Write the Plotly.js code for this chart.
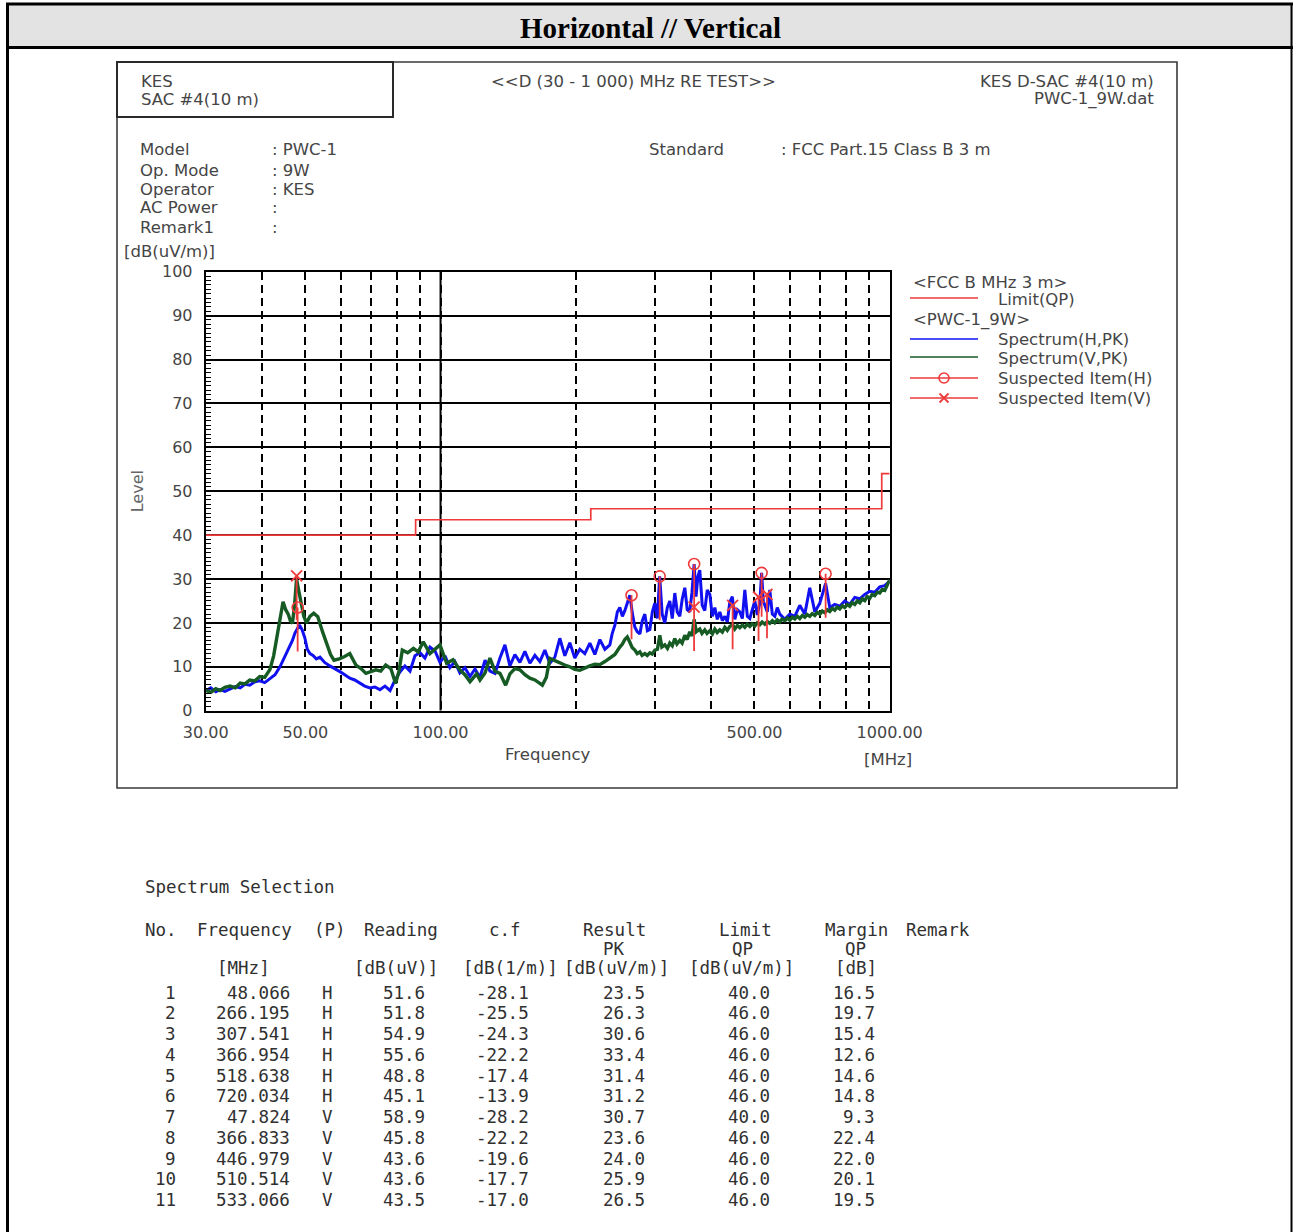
<!DOCTYPE html>
<html>
<head>
<meta charset="utf-8">
<script src="https://cdn.plot.ly/plotly-3.0.1.min.js"></script>
<style>
html,body{margin:0;padding:0;background:#fff;}
#chart{width:1293px;height:1232px;}
</style>
</head>
<body>
<div id="chart"></div>
<script>
// ---------------- DATA ----------------
const pageTitle = "Horizontal // Vertical";

// Spectrum (H, PK)
const hFreq = [30.0,30.8,31.6,32.3,33.1,34.0,34.9,35.8,36.7,37.6,38.6,39.6,40.6,41.7,42.8,43.9,45.0,46.2,46.8,47.4,48.0,48.5,49.2,49.9,50.5,51.2,52.0,52.9,53.9,55.2,56.7,58.2,59.7,61.2,62.8,64.4,66.1,67.8,69.6,71.4,73.3,75.2,77.2,79.2,81.2,83.3,85.5,87.7,90.0,92.3,94.7,97.2,99.7,102.3,104.9,107.6,110.4,113.3,116.3,119.3,122.4,125.6,128.8,132.2,135.6,139.1,142.7,146.4,150.2,154.1,158.1,162.2,166.4,170.7,175.1,179.7,184.3,189.1,194.0,199.0,204.2,209.5,215.0,220.6,226.3,232.2,238.2,241.0,244.4,247.5,250.7,254.0,257.2,260.5,263.9,267.5,270.8,274.2,277.8,281.3,285.0,288.7,292.4,296.2,300.0,303.8,307.5,311.5,315.7,319.8,323.9,328.0,332.3,336.5,340.9,345.3,349.8,354.2,358.8,362.9,366.95,370.5,374.0,377.7,382.5,387.5,392.5,397.7,402.8,408.0,413.2,418.6,424.0,429.5,435.0,440.6,446.3,452.0,458.0,463.8,469.8,475.8,482.0,488.2,494.5,500.9,507.3,513.8,518.6,523.0,527.2,534.0,540.8,547.8,554.9,562.0,569.2,584.0,599.2,614.8,630.7,647.1,663.8,681.1,698.8,720.0,735.5,754.5,774.1,794.2,814.8,836.0,857.7,880.0,902.7,926.1,950.2,974.9,1000.0];
const hLevel = [4.5,5.2,4.3,4.8,4.4,5.0,5.5,5.2,6.0,5.8,6.6,6.8,6.4,7.3,8.2,10.0,12.2,14.6,16.0,17.7,18.8,19.5,18.4,16.5,14.0,13.0,12.6,11.8,12.2,11.0,10.2,9.6,8.9,8.2,7.4,7.0,6.2,5.6,5.2,5.4,4.8,5.6,4.6,7.0,8.8,10.2,9.0,12.5,13.2,12.0,14.5,13.6,11.0,12.5,9.8,11.2,8.6,9.8,7.8,9.5,7.6,11.5,9.0,8.5,12.0,15.0,10.2,12.8,11.0,13.5,10.8,12.6,11.2,13.8,10.8,12.2,16.5,12.5,15.5,12.0,14.0,13.0,15.4,12.8,16.2,14.0,15.0,17.5,19.5,22.5,23.5,21.5,22.8,24.5,26.3,22.0,19.0,18.0,17.5,20.5,22.0,18.2,18.5,22.5,24.5,21.0,30.6,22.0,20.0,23.5,25.0,21.0,26.8,22.5,21.5,25.5,28.0,23.0,22.5,27.0,33.4,26.0,30.5,32.0,24.0,22.8,27.5,26.5,21.5,23.5,20.8,22.5,20.5,21.5,20.2,24.8,26.0,20.8,23.0,22.5,21.0,27.5,21.5,21.0,23.0,25.0,21.8,24.5,31.4,25.0,24.0,22.5,27.5,22.0,21.5,23.5,22.0,20.8,22.0,21.5,24.0,22.0,28.0,22.5,24.5,29.0,23.5,24.2,23.8,25.0,24.2,25.8,25.5,26.5,27.2,27.0,28.2,28.5,29.5];

// Spectrum (V, PK)
const vFreq = [30.0,30.8,31.6,32.3,33.1,34.0,34.9,35.8,36.7,37.6,38.6,39.6,40.6,41.7,42.5,43.3,44.0,44.6,45.2,45.8,46.3,46.8,47.3,47.8,48.3,49.0,49.6,50.3,51.2,52.2,53.3,54.6,55.9,56.9,57.9,59.5,61.0,62.8,64.8,66.5,68.2,70.0,71.8,73.6,75.5,77.5,79.4,80.8,82.2,84.5,87.0,89.2,91.5,94.7,97.2,99.7,103.2,106.6,110.4,113.3,116.3,120.3,122.4,125.6,128.8,132.2,135.6,139.6,142.7,146.4,150.2,154.1,158.1,162.2,166.4,168.5,172.0,175.1,179.7,184.3,189.1,194.0,199.0,204.2,209.5,215.0,220.6,226.3,232.2,238.2,244.4,250.7,254.0,257.2,260.5,263.9,267.0,270.8,274.0,277.8,281.0,285.0,288.5,292.4,296.0,300.0,304.0,307.7,311.0,315.7,320.0,323.9,328.0,332.3,336.0,340.9,345.0,349.8,354.0,358.8,363.0,366.9,371.0,377.7,382.0,387.5,392.0,397.7,403.0,408.0,413.0,418.6,424.0,429.5,435.0,440.6,447.0,452.0,458.0,463.8,470.0,475.8,482.0,488.2,494.0,500.9,507.0,513.8,520.0,527.2,534.0,540.8,548.0,554.9,562.0,569.2,576.0,584.0,592.0,599.2,607.0,614.8,623.0,630.7,639.0,647.1,655.0,663.8,672.0,681.1,690.0,698.8,708.0,717.0,726.0,735.5,745.0,754.5,764.0,774.1,784.0,794.2,805.0,814.8,825.0,836.0,847.0,857.7,869.0,880.0,891.0,902.7,914.0,926.1,938.0,950.2,962.0,974.9,987.0,1000.0];
const vLevel = [4.6,4.2,5.0,4.6,5.3,5.6,5.2,6.3,6.1,7.0,6.8,7.8,7.6,9.4,12.5,17.6,22.0,24.8,23.0,22.0,20.5,19.9,24.0,30.0,27.5,24.5,21.5,20.0,21.5,22.2,21.4,18.0,15.3,12.8,11.5,11.8,12.3,13.0,10.4,9.6,8.5,8.9,9.3,9.0,10.4,9.6,6.2,9.0,13.8,13.2,14.2,13.4,15.7,13.0,14.0,15.0,10.8,11.6,9.3,8.2,6.6,8.4,7.0,8.6,12.0,9.0,8.5,5.8,8.4,9.6,9.3,8.2,7.4,7.0,6.2,5.8,7.6,11.9,11.4,10.8,10.4,10.0,9.4,9.2,9.8,10.2,10.6,10.5,11.2,12.0,12.8,14.5,15.2,16.2,16.8,15.6,14.4,13.8,13.0,13.4,12.6,13.0,12.6,13.2,12.9,13.8,14.0,17.2,14.5,15.0,14.2,15.4,14.8,16.4,15.2,16.0,15.4,17.2,16.2,18.0,17.0,20.8,18.0,18.6,17.6,18.4,17.6,18.2,17.5,18.6,17.8,18.4,17.9,19.0,18.3,19.2,19.6,18.6,19.4,18.9,19.5,19.0,19.7,19.2,19.8,19.3,20.0,19.6,20.2,19.7,20.3,19.9,20.5,20.0,20.7,20.2,20.9,20.5,21.1,20.6,21.3,20.9,21.5,21.0,21.7,21.3,21.9,21.5,22.1,21.7,22.4,22.0,22.7,22.3,23.0,22.6,23.3,22.9,23.6,23.2,23.9,23.5,24.2,23.8,24.6,24.2,25.0,24.6,25.5,25.1,26.0,25.6,26.5,26.2,27.0,26.8,27.6,27.4,28.6,29.8];

// Limit (QP), FCC Part 15 Class B 3 m
const limitFreq  = [30, 88, 216, 960, 1000];
const limitLevel = [40, 43.5, 46, 54, 54];

// Spectrum selection table
const itemNo      = [1,2,3,4,5,6,7,8,9,10,11];
const itemFreq    = [48.066,266.195,307.541,366.954,518.638,720.034,47.824,366.833,446.979,510.514,533.066];
const itemPol     = ["H","H","H","H","H","H","V","V","V","V","V"];
const itemReading = [51.6,51.8,54.9,55.6,48.8,45.1,58.9,45.8,43.6,43.6,43.5];
const itemCF      = [-28.1,-25.5,-24.3,-22.2,-17.4,-13.9,-28.2,-22.2,-19.6,-17.7,-17.0];
const itemResult  = [23.5,26.3,30.6,33.4,31.4,31.2,30.7,23.6,24.0,25.9,26.5];
const itemLimit   = [40.0,46.0,46.0,46.0,46.0,46.0,40.0,46.0,46.0,46.0,46.0];
const itemMargin  = [16.5,19.7,15.4,12.6,14.6,14.8,9.3,22.4,22.0,20.1,19.5];

// Axis ticks
const xTickVals  = [30, 50, 100, 500, 1000];
const xTickText  = ["30.00","50.00","100.00","500.00","1000.00"];
const xMinorVals = [40,60,70,80,90,200,300,400,600,700,800,900];

// ---------------- STYLE / LAYOUT ----------------
const W = 1293, H = 1232;
const PX = x => x / W;
const PY = y => 1 - y / H;
const STEM_DB = 10;

const SANS = "DejaVu Sans";
const MONO = "DejaVu Sans Mono";
const TXT = "#454545";
const RED = "#ee3a3a";
const BLUE = "#1010f0";
const GREEN = "#165a24";

const selH = itemPol.map((p,i)=>p==="H"?i:-1).filter(i=>i>=0);
const selV = itemPol.map((p,i)=>p==="V"?i:-1).filter(i=>i>=0);

const traces = [
  {x:hFreq, y:hLevel, type:"scatter", mode:"lines", name:"Spectrum(H,PK)",
   line:{color:BLUE, width:3}, hoverinfo:"skip"},
  {x:vFreq, y:vLevel, type:"scatter", mode:"lines", name:"Spectrum(V,PK)",
   line:{color:GREEN, width:3.4}, hoverinfo:"skip"},
  {x:limitFreq, y:limitLevel, type:"scatter", mode:"lines", name:"Limit(QP)",
   line:{color:RED, width:1.7, shape:"hv"}, hoverinfo:"skip"},
  {x:selH.map(i=>itemFreq[i]), y:selH.map(i=>itemResult[i]), type:"scatter", mode:"markers",
   name:"Suspected Item(H)",
   marker:{symbol:"circle-open", size:11, color:RED, line:{width:1.6, color:RED}},
   error_y:{type:"data", symmetric:false, array:selH.map(()=>0), arrayminus:selH.map(()=>STEM_DB),
            color:RED, thickness:1.8, width:0}},
  {x:selV.map(i=>itemFreq[i]), y:selV.map(i=>itemResult[i]), type:"scatter", mode:"markers",
   name:"Suspected Item(V)",
   marker:{symbol:"x-thin-open", size:11, color:RED, line:{width:1.8, color:RED}},
   error_y:{type:"data", symmetric:false, array:selV.map(()=>0), arrayminus:selV.map(()=>STEM_DB),
            color:RED, thickness:1.8, width:0}}
];

const ann = [];
function txt(text, x, y, opt) {
  opt = opt || {};
  ann.push({text:text, x:PX(x), y:PY(y), xref:"paper", yref:"paper", showarrow:false,
    xanchor:opt.xa || "left", yanchor:"middle",
    font:{family:opt.family || SANS, size:opt.size || 16.5, color:opt.color || TXT,
          weight: opt.weight || "normal"}});
}

// page header
txt(pageTitle, 650, 28, {xa:"center", family:"Liberation Serif", size:29, color:"#000", weight:"bold"});

// chart header texts
txt("KES", 139, 81);
txt("SAC #4(10 m)", 139, 99);
txt("&lt;&lt;D (30 - 1 000) MHz RE TEST&gt;&gt;", 489, 81);
txt("KES D-SAC #4(10 m)", 1156, 81, {xa:"right"});
txt("PWC-1_9W.dat", 1156, 99, {xa:"right"});

const infoLabels = ["Model","Op. Mode","Operator","AC Power","Remark1"];
const infoValues = [": PWC-1",": 9W",": KES",":",":"];
const infoY = [150,170,189,208,228];
infoLabels.forEach((l,i)=>{ txt(l, 138, infoY[i]); txt(infoValues[i], 270, infoY[i]); });
txt("Standard", 647, 150);
txt(": FCC Part.15 Class B 3 m", 779, 150);
txt("[dB(uV/m)]", 122, 251);
txt("[MHz]", 862, 759);

// legend (custom)
txt("&lt;FCC B MHz 3 m&gt;", 911, 282);
txt("Limit(QP)", 996, 299);
txt("&lt;PWC-1_9W&gt;", 911, 320);
txt("Spectrum(H,PK)", 996, 339);
txt("Spectrum(V,PK)", 996, 358);
txt("Suspected Item(H)", 996, 378);
txt("Suspected Item(V)", 996, 398);

// table
const T = {family:MONO, size:17.5, color:"#303030"};
const TC = Object.assign({xa:"center"}, T);
const TR = Object.assign({xa:"right"}, T);
txt("Spectrum Selection", 143, 887, T);
txt("No.", 143, 930, T);
txt("Frequency", 195, 930, T);
txt("(P)", 312, 930, T);
txt("Reading", 362, 930, T);
txt("c.f", 505, 930, TC);
txt("Result", 614, 930, TC);
txt("Limit", 745, 930, TC);
txt("Margin", 856, 930, TC);
txt("Remark", 938, 930, TC);
txt("PK", 614, 949, TC);
txt("QP", 742, 949, TC);
txt("QP", 855, 949, TC);
txt("[MHz]", 243, 968, TC);
txt("[dB(uV)]", 396, 968, TC);
txt("[dB(1/m)]", 510, 968, TC);
txt("[dB(uV/m)]", 616, 968, TC);
txt("[dB(uV/m)]", 741, 968, TC);
txt("[dB]", 856, 968, TC);

const ROW0 = 992.7, ROWH = 20.73;
itemNo.forEach((n,i)=>{
  const y = ROW0 + i*ROWH;
  txt(String(n), 178, y, TR);
  txt(itemFreq[i].toFixed(3), 292, y, TR);
  txt(itemPol[i], 327, y, TC);
  txt(itemReading[i].toFixed(1), 427, y, TR);
  txt(itemCF[i].toFixed(1), 531, y, TR);
  txt(itemResult[i].toFixed(1), 647, y, TR);
  txt(itemLimit[i].toFixed(1), 772, y, TR);
  txt(itemMargin[i].toFixed(1), 877, y, TR);
});

// shapes
const shapes = [];
function pline(x0,y0,x1,y1,color,width){
  shapes.push({type:"line", xref:"paper", yref:"paper", x0:PX(x0), y0:PY(y0), x1:PX(x1), y1:PY(y1),
    line:{color:color, width:width}});
}
// header band and page borders
shapes.push({type:"rect", xref:"paper", yref:"paper", x0:PX(7), x1:PX(1293), y0:PY(47), y1:PY(4),
  fillcolor:"#e3e3e3", line:{width:0}, layer:"below"});
pline(6, 4, 1293, 4, "#000", 3);
pline(6, 47.5, 1293, 47.5, "#000", 3);
pline(7.5, 3, 7.5, 1232, "#000", 3);
pline(1291.5, 3, 1291.5, 1232, "#000", 2);
// chart frame and small info box
shapes.push({type:"rect", xref:"paper", yref:"paper", x0:PX(117), x1:PX(1177), y0:PY(788), y1:PY(62),
  line:{color:"#3a3a3a", width:1.6}, fillcolor:"rgba(0,0,0,0)"});
shapes.push({type:"rect", xref:"paper", yref:"paper", x0:PX(117), x1:PX(393), y0:PY(117), y1:PY(62),
  line:{color:"#2a2a2a", width:2}, fillcolor:"rgba(0,0,0,0)"});
// solid decade gridline at 100 MHz
shapes.push({type:"line", xref:"x", yref:"y", x0:100, x1:100, y0:0, y1:100,
  line:{color:"#000", width:2}, layer:"below"});
// legend glyphs
pline(910, 298, 978, 298, RED, 1.7);
pline(910, 339, 978, 339, BLUE, 1.7);
pline(910, 357, 978, 357, GREEN, 1.7);
pline(910, 378, 978, 378, RED, 1.7);
pline(910, 398, 978, 398, RED, 1.7);
shapes.push({type:"circle", xref:"paper", yref:"paper", x0:PX(939), x1:PX(949), y0:PY(383), y1:PY(373),
  line:{color:RED, width:1.6}, fillcolor:"rgba(0,0,0,0)"});
pline(939.5, 393.5, 948.5, 402.5, RED, 1.8);
pline(939.5, 402.5, 948.5, 393.5, RED, 1.8);

const GRID = "#000";
const layout = {
  width: W, height: H,
  margin: {l:0, r:0, t:0, b:0, pad:0},
  paper_bgcolor: "#fff", plot_bgcolor: "#fff",
  showlegend: false,
  font: {family: SANS, color: TXT},
  xaxis: {
    type: "log", range: [Math.log10(30), Math.log10(1000)],
    domain: [PX(205.7), PX(889.7)], anchor: "y",
    tickmode: "array", tickvals: xTickVals, ticktext: xTickText,
    ticks: "", showgrid: true, gridcolor: GRID, gridwidth: 2, griddash: "8px,5px",
    minor: {tickmode: "array", tickvals: xMinorVals, showgrid: true, gridcolor: GRID,
            gridwidth: 2, griddash: "8px,5px", ticks: ""},
    showline: true, mirror: true, linecolor: "#000", linewidth: 2,
    zeroline: false, automargin: false, fixedrange: true,
    tickfont: {family: SANS, size: 16, color: TXT}, ticklabelstandoff: 6,
    title: {text: "Frequency", font: {family: SANS, size: 16.5, color: TXT}, standoff: 8}
  },
  yaxis: {
    range: [0, 100], domain: [PY(710.7), PY(271.7)], anchor: "x",
    tick0: 0, dtick: 10, ticks: "",
    showgrid: true, gridcolor: GRID, gridwidth: 2,
    minor: {dtick: 1, ticks: "inside", ticklen: 5, tickcolor: "#000", tickwidth: 1, showgrid: false},
    showline: true, mirror: true, linecolor: "#000", linewidth: 2,
    zeroline: false, automargin: false, fixedrange: true,
    tickfont: {family: SANS, size: 16, color: TXT}, ticklabelstandoff: 8,
    title: {text: "Level", font: {family: SANS, size: 16, color: "#666"}, standoff: 14}
  },
  annotations: ann,
  shapes: shapes
};

Plotly.newPlot("chart", traces, layout, {displayModeBar: false, staticPlot: true});
</script>
</body>
</html>
